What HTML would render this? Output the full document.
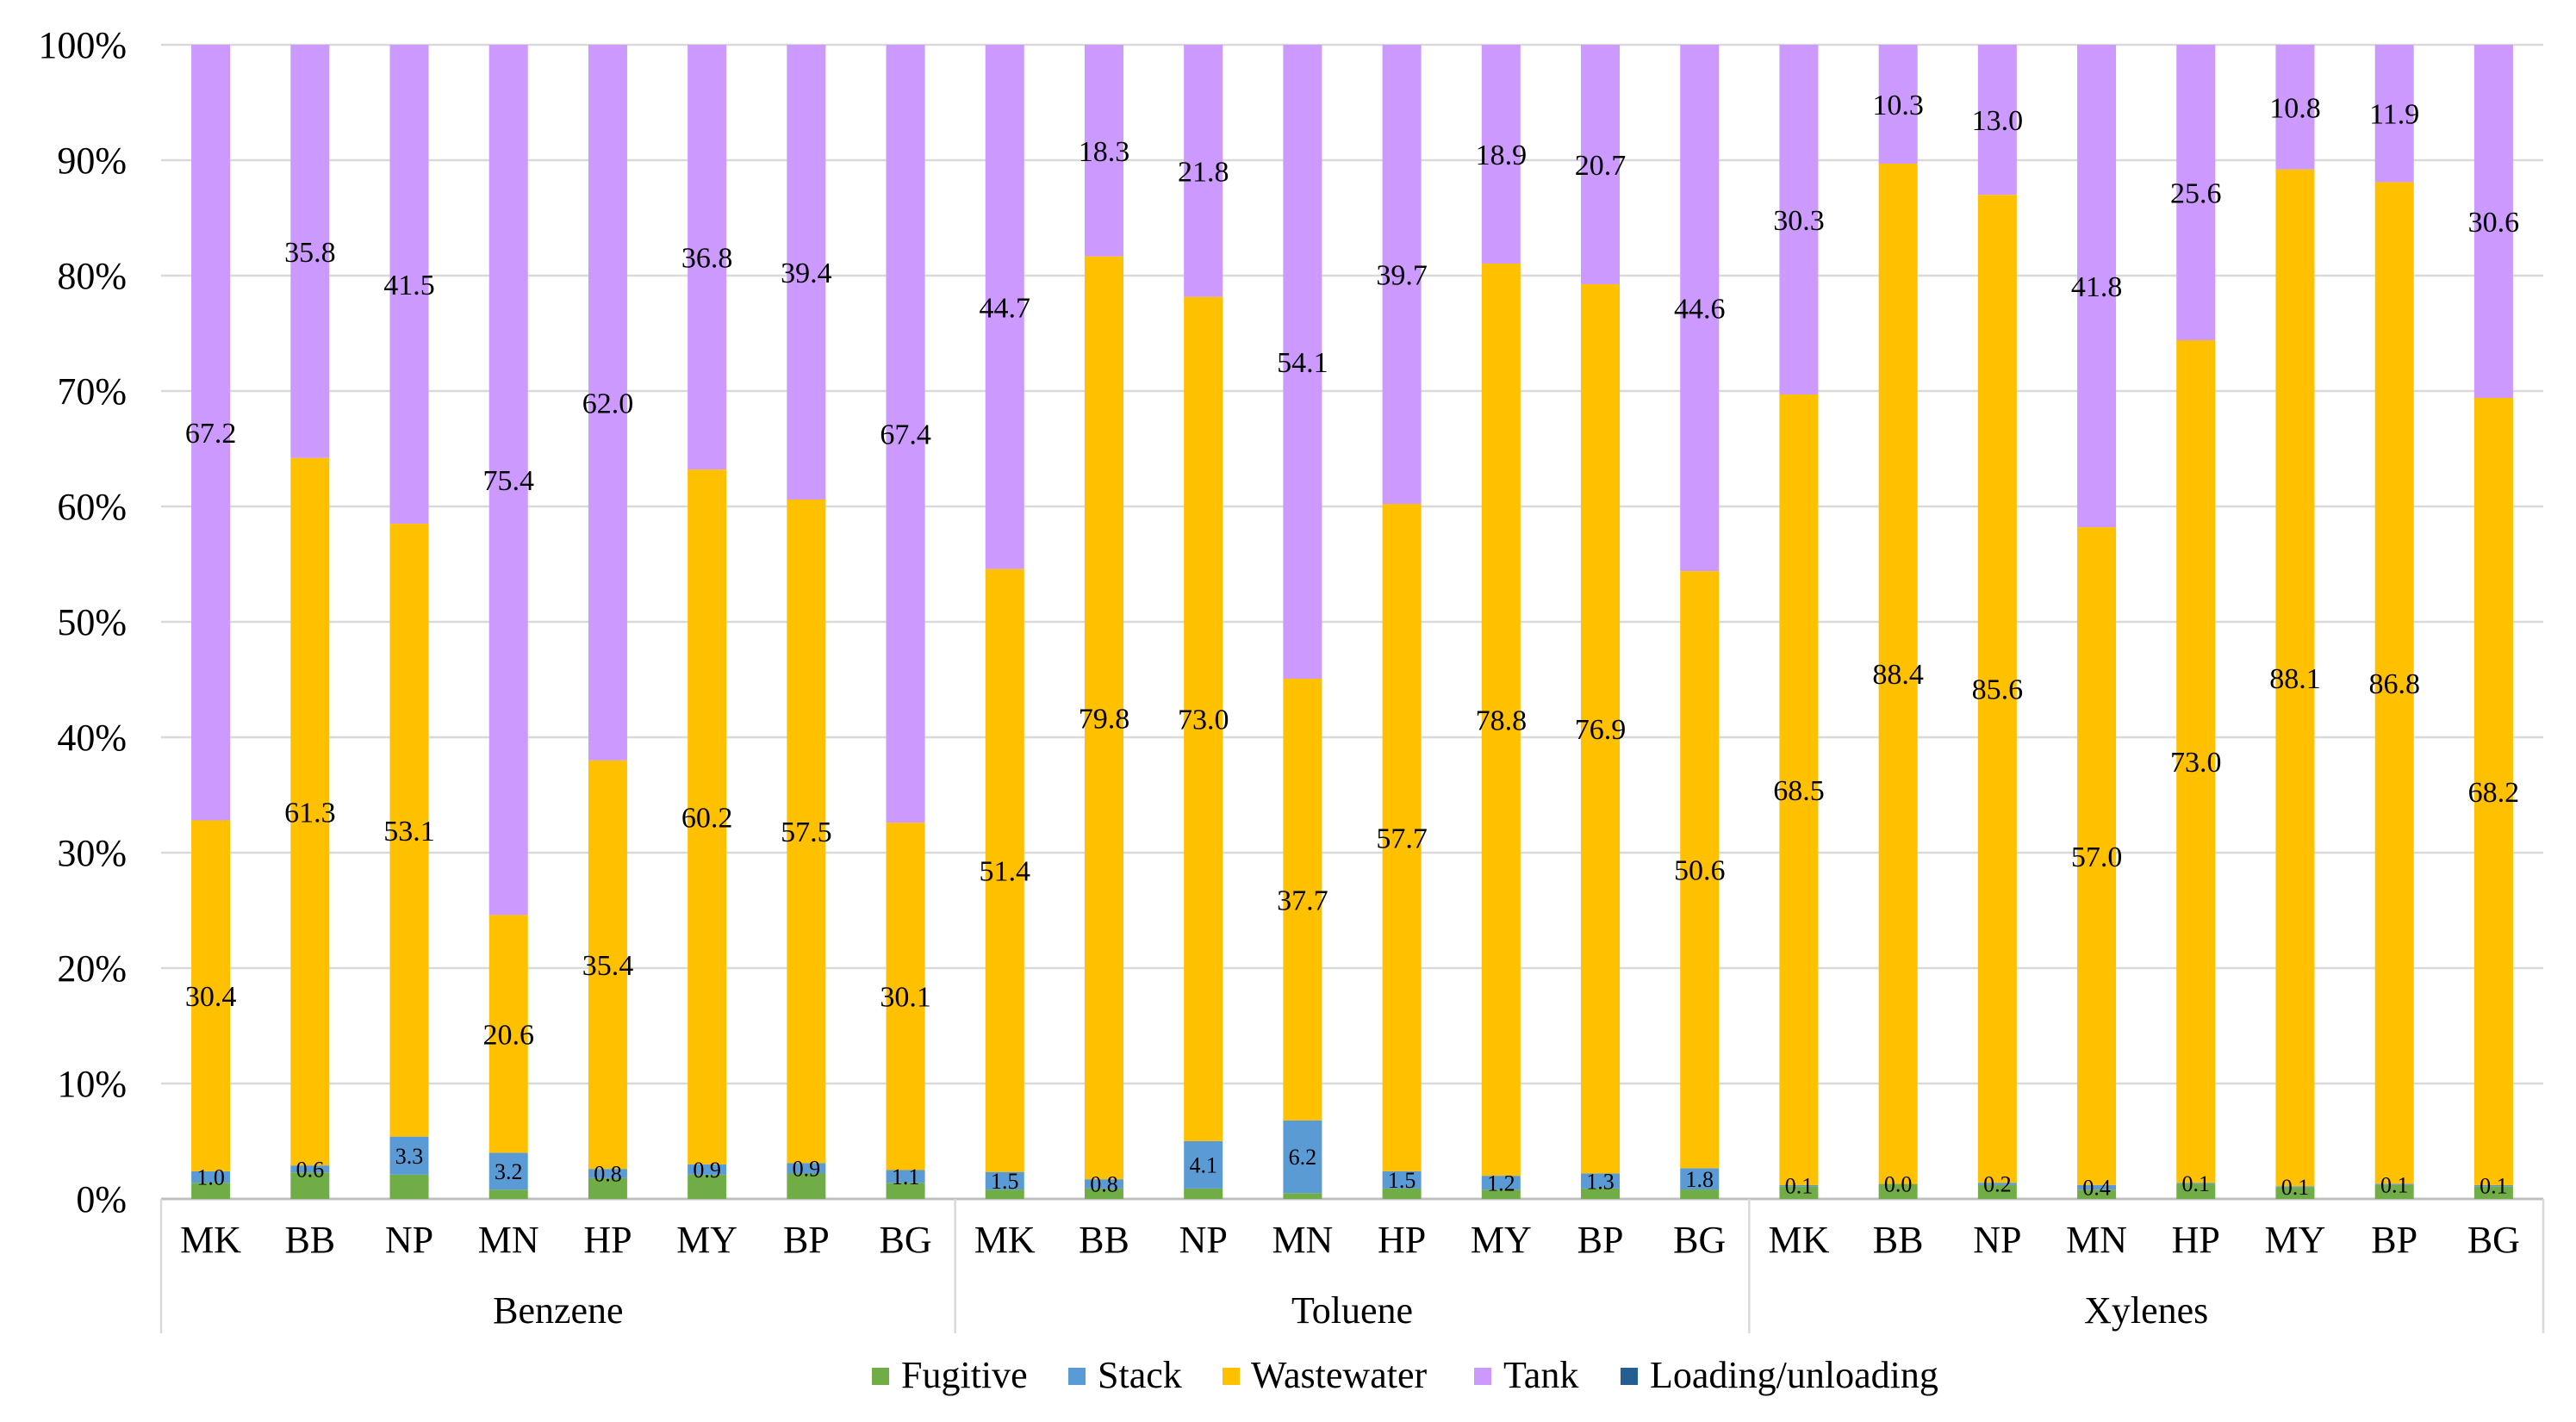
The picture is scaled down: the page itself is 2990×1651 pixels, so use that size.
<!DOCTYPE html>
<html><head><meta charset="utf-8"><style>
html,body{margin:0;padding:0;background:#fff;}
svg, svg text{font-family:"Liberation Serif","Times New Roman",serif;}
svg{display:block;}
</style></head><body>
<svg id="chart" width="2990" height="1651" viewBox="0 0 2990 1651" xmlns="http://www.w3.org/2000/svg" font-family="Liberation Serif, serif">
<g id="grid"></g>
<g id="yaxis"></g>
<g id="bars"></g>
<g id="labels"></g>
<g id="xaxis"></g>
<g id="legend"></g>
</svg>
<script>
const groups = ["Benzene","Toluene","Xylenes"];
const sites = ["MK","BB","NP","MN","HP","MY","BP","BG"];
const fugitive = [1.4,2.3,2.1,0.8,1.8,2.1,2.2,1.4, 0.8,0.9,0.9,0.5,0.9,0.8,0.9,0.8, 1.1,1.3,1.2,0.8,1.3,1.0,1.2,1.1];
const stack = [1.0,0.6,3.3,3.2,0.8,0.9,0.9,1.1, 1.5,0.8,4.1,6.2,1.5,1.2,1.3,1.8, 0.1,0.0,0.2,0.4,0.1,0.1,0.1,0.1];
const wastewater = [30.4,61.3,53.1,20.6,35.4,60.2,57.5,30.1, 51.4,79.8,73.0,37.7,57.7,78.8,76.9,50.6, 68.5,88.4,85.6,57.0,73.0,88.1,86.8,68.2];
const tank = [67.2,35.8,41.5,75.4,62.0,36.8,39.4,67.4, 44.7,18.3,21.8,54.1,39.7,18.9,20.7,44.6, 30.3,10.3,13.0,41.8,25.6,10.8,11.9,30.6];
const loading = [0,0,0,0,0,0,0,0, 0,0,0,0,0,0,0,0, 0,0,0,0,0,0,0,0];
const yTicks = [0,10,20,30,40,50,60,70,80,90,100];
const seriesNames = ["Fugitive","Stack","Wastewater","Tank","Loading/unloading"];

const NS="http://www.w3.org/2000/svg";
const FF="Liberation Serif, Times New Roman, serif";
const colors=["#70AD47","#5B9BD5","#FFC000","#CC99FF","#255E91"];
const X0=187, X1=2952, Y0=1392, Y100=52;
const n=groups.length*sites.length, step=(X1-X0)/n, bw=45;
const y=v=>Y0-(Y0-Y100)*v/100;
const xc=i=>X0+step*(i+0.5);
function mk(tag,attrs,parent,text){const e=document.createElementNS(NS,tag);for(const k in attrs)e.setAttribute(k,attrs[k]);if(text!==undefined){e.textContent=text;e.setAttribute('font-family',FF);}parent.appendChild(e);return e;}
const grid=document.getElementById('grid'),yax=document.getElementById('yaxis'),bars=document.getElementById('bars'),labs=document.getElementById('labels'),xax=document.getElementById('xaxis'),leg=document.getElementById('legend');
yTicks.forEach(t=>{
  const l=mk('line',{x1:X0,x2:X1,y1:y(t),y2:y(t),stroke:t===0?'#bfbfbf':'#d9d9d9','stroke-width':t===0?3:2.5},grid);
  
  
  const tx=mk('text',{x:147,y:y(t)+15,'text-anchor':'end','font-size':44},yax,t+'%');
  
  
});
const series=[fugitive,stack,wastewater,tank,loading];
for(let i=0;i<n;i++){
  const tot=series.reduce((s,a)=>s+a[i],0);
  let acc=0;
  series.forEach((arr,s)=>{
    const v=arr[i]/tot*100;
    const r=mk('rect',{x:xc(i)-bw/2,y:y(acc+v),width:bw,height:Math.max(0,y(acc)-y(acc+v)),fill:colors[s]},bars);
    
    
    if(s>=1&&s<=3){
      const fs=s===1?26:34;
      const t=mk('text',{x:xc(i),y:y(acc+v/2)+fs*0.35,'text-anchor':'middle','font-size':fs},labs,arr[i].toFixed(1));
      
      
    }
    acc+=v;
  });
  const c=mk('text',{x:xc(i),y:1454,'text-anchor':'middle','font-size':44},xax,sites[i%sites.length]);
  
  
}
for(let g=0;g<=groups.length;g++){
  const xx=X0+step*sites.length*g;
  const l=mk('line',{x1:xx,x2:xx,y1:Y0,y2:1548,stroke:'#d9d9d9','stroke-width':2.5},xax);
  
  
  if(g<groups.length){
    const t=mk('text',{x:xx+step*sites.length/2,y:1536,'text-anchor':'middle','font-size':44},xax,groups[g]);
    
    
  }
}
const legSq=[1012,1240,1419,1711,1881], legTx=[1046,1274,1452,1745,1915];
seriesNames.forEach((nm,s)=>{
  const r=mk('rect',{x:legSq[s],y:1588,width:20,height:20,fill:colors[s]},leg);
  
  
  const t=mk('text',{x:legTx[s],y:1611,'font-size':44},leg,nm);
  
  
});
</script>
</body></html>
